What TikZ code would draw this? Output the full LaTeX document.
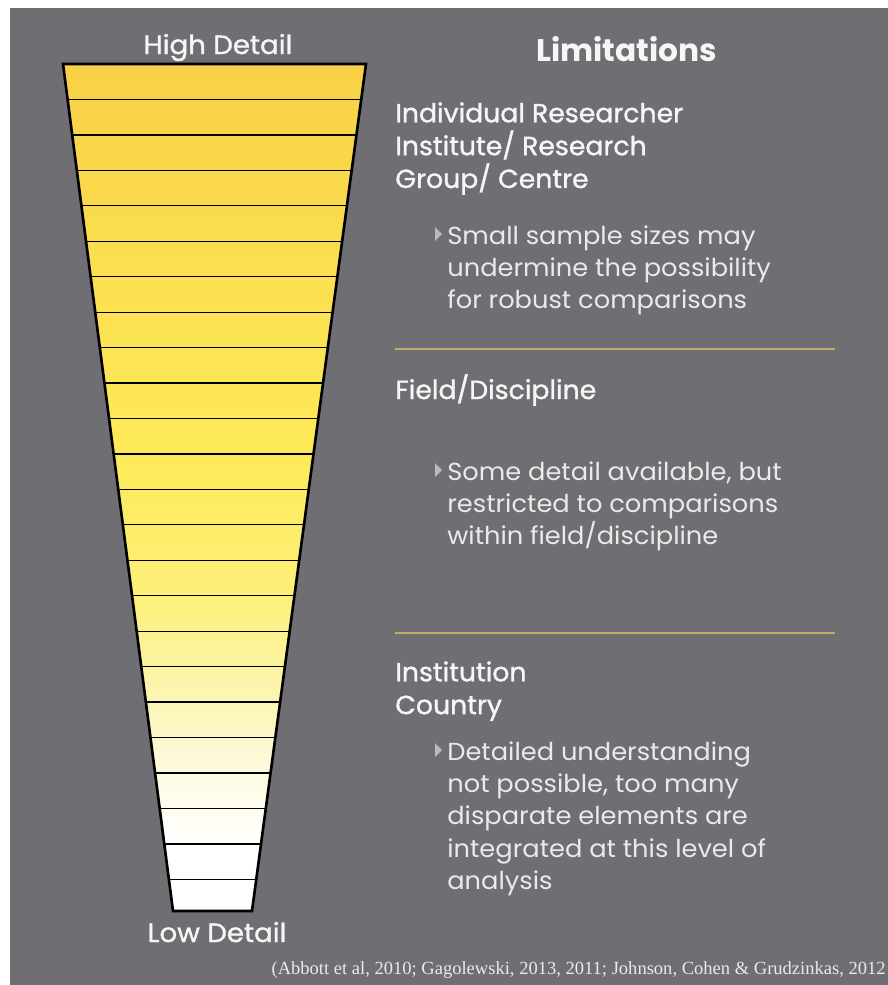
\documentclass[tikz,border=0pt]{standalone}
\usepackage{fontspec}
\setmainfont{Poppins}
\newfontfamily\headfont[FakeBold=1.2,FakeStretch=1.02]{Poppins}
\newfontfamily\endfont[FakeBold=1.2,FakeStretch=1.05]{Poppins}
\newfontfamily\bodyfont[FakeStretch=1.045]{Poppins}
\newfontfamily\citefont{Liberation Serif}
\usetikzlibrary{calc,positioning}
\definecolor{bggrey}{RGB}{111,111,115}
\definecolor{txtwhite}{RGB}{246,246,246}
\definecolor{txtgrey}{RGB}{234,234,234}
\definecolor{bulgrey}{RGB}{185,185,188}
\definecolor{rulegold}{RGB}{196,172,100}
\definecolor{topgold}{RGB}{248,208,70}
\definecolor{goldyel}{RGB}{251,222,78}
\definecolor{brightyel}{RGB}{253,234,88}
\definecolor{midyel}{RGB}{253,240,122}
\definecolor{paleyel}{RGB}{252,245,182}
\definecolor{creamyel}{RGB}{254,251,228}
\pgfdeclareverticalshading{funnelshade}{100bp}{color(0bp)=(white); color(28.9bp)=(white);
  color(32.7bp)=(creamyel); color(37.5bp)=(paleyel); color(43.4bp)=(midyel);
  color(52bp)=(brightyel); color(64bp)=(goldyel); color(75bp)=(topgold); color(100bp)=(topgold)}

\begin{document}
\begin{tikzpicture}[x=0.02cm,y=-0.02cm,
    every node/.style={inner sep=0pt,text=txtwhite},
    head/.style={anchor=north west,align=left,font=\headfont\fontsize{14.9}{18.7}\selectfont},
    body/.style={anchor=north west,align=left,text=txtgrey,font=\bodyfont\fontsize{14}{18.4}\selectfont},
    ends/.style={anchor=base,font=\endfont\fontsize{15}{17}\selectfont},
    rung/.style={line width=0.7pt},
    divider/.style={draw=rulegold,line width=1.1pt}]
  \useasboundingbox(0,0)rectangle(888,985);
  \fill[white](0,0)rectangle(888,985);
  \fill[bggrey](10,8)rectangle(888,985);
  \coordinate(TL)at(63,64); \coordinate(TR)at(366,64);
  \coordinate(BR)at(252,911); \coordinate(BL)at(173,911);
  \shade[shading=funnelshade](TL)--(TR)--(BR)--(BL)--cycle;
  \foreach \k in {1,...,23}{
    \pgfmathsetmacro\t{\k*35.45/847}
    \draw[rung]($(TL)!\t!(BL)$)--($(TR)!\t!(BR)$);}
  \draw[line width=1.5pt](TL)--(TR)--(BR)--(BL)--cycle;
  \node(high)[ends]at(218,54){High Detail};
  \node(low)[ends]at(217,942){Low Detail};
  \node(limits)[anchor=base west,font=\bfseries\fontsize{17.8}{20}\selectfont]at(536,61){Limitations};
  \node(h1)[head]at(395,102){Individual Researcher\\Institute/ Research\\Group/ Centre};
  \node(b1)[body]at(447,225){Small sample sizes may\\undermine the possibility\\for robust comparisons};
  \coordinate(d1l)at(395,349); \coordinate(d1r)at(835,349);
  \draw[divider](d1l)--(d1r);
  \node(h2)[head]at(395,374){Field/Discipline};
  \node(b2)[body]at(447,461){Some detail available, but\\restricted to comparisons\\within field/discipline};
  \coordinate(d2l)at(395,633); \coordinate(d2r)at(835,633);
  \draw[divider](d2l)--(d2r);
  \node(h3)[head]at(395,661){Institution\\Country};
  \node(b3)[body]at(447,741){Detailed understanding\\not possible, too many\\disparate elements are\\integrated at this level of\\analysis};
  \foreach \b in {b1,b2,b3}
    \fill[bulgrey]($(\b.north west)+(-12,2)$)--++(0,14)--++(7,-7)--cycle;
  \node(cite)[anchor=base east,text=txtgrey,font=\citefont\fontsize{10.55}{12}\selectfont]at(886,974)
    {(Abbott et al, 2010; Gagolewski, 2013, 2011; Johnson, Cohen \& Grudzinkas, 2012};
\end{tikzpicture}
\end{document}
